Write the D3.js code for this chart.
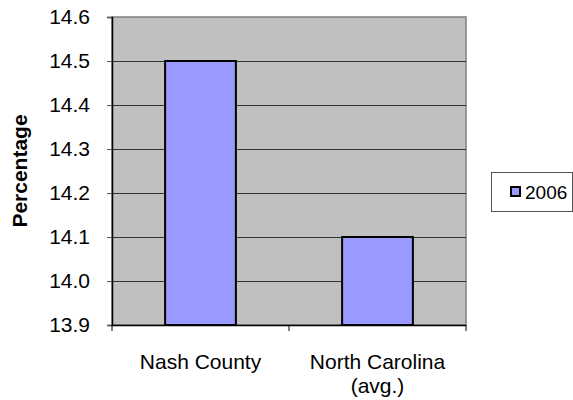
<!DOCTYPE html>
<html>
<head>
<meta charset="utf-8">
<script src="https://cdn.jsdelivr.net/npm/d3@7/dist/d3.min.js"></script>
<style>
  html, body { margin: 0; padding: 0; background: #fff; }
  svg { display: block; font-family: "Liberation Sans", Arial, sans-serif; }
</style>
</head>
<body>
<svg id="chart" width="573" height="400"></svg>
<script>
const categories = ["Nash County", "North Carolina\n(avg.)"];
const seriesName = "2006";
const values = [14.5, 14.1];
const yTicks = [13.9, 14.0, 14.1, 14.2, 14.3, 14.4, 14.5, 14.6];
const yTitle = "Percentage";

const svg = d3.select("#chart");
const plot = { left: 112, right: 466, top: 17, bottom: 325 };

const y = d3.scaleLinear().domain([13.9, 14.6]).range([plot.bottom, plot.top]);
const x = d3.scaleBand().domain(categories).range([plot.left, plot.right]).padding(0);

// plot background
svg.append("rect")
  .attr("x", plot.left).attr("y", plot.top)
  .attr("width", plot.right - plot.left).attr("height", plot.bottom - plot.top)
  .attr("fill", "#C0C0C0").attr("stroke", "#808080").attr("stroke-width", 1.5);

// gridlines
svg.append("g").selectAll("line").data(yTicks.slice(1, -1)).join("line")
  .attr("x1", plot.left).attr("x2", plot.right)
  .attr("y1", d => Math.round(y(d)) + 0.5).attr("y2", d => Math.round(y(d)) + 0.5)
  .attr("stroke", "#333").attr("stroke-width", 1);

// y axis
const yAxis = svg.append("g")
  .attr("transform", `translate(${plot.left},0)`)
  .call(d3.axisLeft(y).tickValues(yTicks).tickFormat(d3.format(".1f")).tickSize(5).tickPadding(17));
yAxis.select(".domain").attr("stroke", "#000").attr("stroke-width", 1.5);
yAxis.selectAll(".tick line").attr("stroke", "#555");
yAxis.selectAll(".tick text")
  .attr("font-size", 21).attr("fill", "#000")
  .attr("font-family", "'Liberation Sans', Arial, sans-serif");

// bars
const barW = x.bandwidth() * 0.4;
svg.append("g").selectAll("rect").data(values).join("rect")
  .attr("x", (d, i) => x(categories[i]) + (x.bandwidth() - barW) / 2)
  .attr("y", d => y(d))
  .attr("width", barW)
  .attr("height", d => plot.bottom - y(d))
  .attr("fill", "#9999FF").attr("stroke", "#000").attr("stroke-width", 2);

// x axis
const xAxis = svg.append("g")
  .attr("transform", `translate(0,${plot.bottom})`);
xAxis.append("line")
  .attr("x1", plot.left).attr("x2", plot.right)
  .attr("y1", 0.5).attr("y2", 0.5)
  .attr("stroke", "#000").attr("stroke-width", 1.5);
const xTickPos = categories.map(c => x(c)).concat([plot.right]);
xAxis.selectAll("line.xt").data(xTickPos).join("line")
  .attr("class", "xt")
  .attr("x1", d => d).attr("x2", d => d)
  .attr("y1", 0).attr("y2", 6)
  .attr("stroke", "#000").attr("stroke-width", 1);

const xLabels = svg.append("g");
categories.forEach(c => {
  const lines = c.split("\n");
  const t = xLabels.append("text")
    .attr("x", x(c) + x.bandwidth() / 2)
    .attr("y", 369)
    .attr("text-anchor", "middle")
    .attr("font-size", 21).attr("fill", "#000");
  lines.forEach((ln, i) => {
    t.append("tspan").attr("x", x(c) + x.bandwidth() / 2).attr("dy", i === 0 ? 0 : 24).text(ln);
  });
});

// y title
svg.append("text")
  .attr("transform", `translate(27,${(plot.top + plot.bottom) / 2}) rotate(-90)`)
  .attr("text-anchor", "middle")
  .attr("font-size", 21).attr("font-weight", "bold").attr("fill", "#000")
  .text(yTitle);

// legend
const lg = svg.append("g");
lg.append("rect").attr("x", 491.5).attr("y", 172.5).attr("width", 81).attr("height", 39)
  .attr("fill", "#fff").attr("stroke", "#555").attr("stroke-width", 1);
lg.append("rect").attr("x", 511).attr("y", 187).attr("width", 9).attr("height", 9)
  .attr("fill", "#9999FF").attr("stroke", "#000").attr("stroke-width", 2);
lg.append("text").attr("x", 525).attr("y", 199)
  .attr("font-size", 19).attr("fill", "#000").text(seriesName);
</script>
</body>
</html>
